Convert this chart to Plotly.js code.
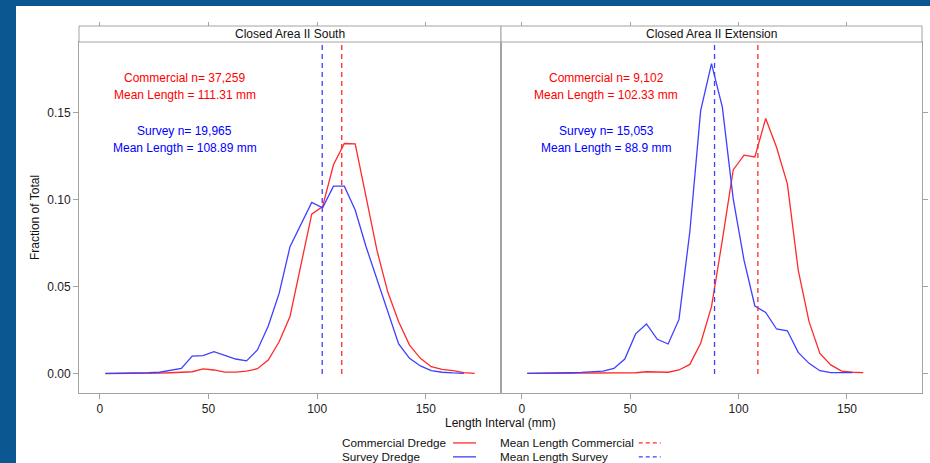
<!DOCTYPE html>
<html>
<head>
<meta charset="utf-8">
<script src="https://cdn.plot.ly/plotly-3.0.1.min.js"></script>
<style>
  html, body { margin: 0; padding: 0; width: 930px; height: 463px; background: #0b5791; overflow: hidden; }
  #chart { position: absolute; left: 16px; top: 6px; width: 914px; height: 457px; background: #ffffff; }
</style>
</head>
<body>
<div id="chart"></div>
<script>
// ---- Data ----
const panelTitles = ["Closed Area II South", "Closed Area II Extension"];

const southCommercialX = [2.5, 7.5, 12.5, 17.5, 22.5, 27.5, 32.5, 37.5, 42.5, 47.5, 52.5, 57.5, 62.5, 67.5, 72.5, 77.5, 82.5, 87.5, 92.5, 97.5, 102.5, 107.5, 112.5, 117.5, 122.5, 127.5, 132.5, 137.5, 142.5, 147.5, 152.5, 157.5, 162.5, 167.5, 172.5];
const southCommercialY = [0.0002, 0.0002, 0.0003, 0.0003, 0.0004, 0.0005, 0.0007, 0.0010, 0.0013, 0.0029, 0.0023, 0.0011, 0.0011, 0.0017, 0.0030, 0.0080, 0.0185, 0.0330, 0.0615, 0.0917, 0.0960, 0.1200, 0.1322, 0.1320, 0.1016, 0.0710, 0.0470, 0.0300, 0.0166, 0.0090, 0.0042, 0.0027, 0.0019, 0.0008, 0.0004];

const southSurveyX = [2.5, 7.5, 12.5, 17.5, 22.5, 27.5, 32.5, 37.5, 42.5, 47.5, 52.5, 57.5, 62.5, 67.5, 72.5, 77.5, 82.5, 87.5, 92.5, 97.5, 102.5, 107.5, 112.5, 117.5, 122.5, 127.5, 132.5, 137.5, 142.5, 147.5, 152.5, 157.5, 162.5, 167.5];
const southSurveyY = [0.0003, 0.0003, 0.0004, 0.0005, 0.0007, 0.0010, 0.0020, 0.0032, 0.0103, 0.0105, 0.0128, 0.0109, 0.0086, 0.0075, 0.0138, 0.0275, 0.0462, 0.0730, 0.0860, 0.0984, 0.0953, 0.1077, 0.1077, 0.0940, 0.0730, 0.0540, 0.0350, 0.0172, 0.0090, 0.0046, 0.0019, 0.0010, 0.0006, 0.0004];

const extCommercialX = [2.5, 7.5, 12.5, 17.5, 22.5, 27.5, 32.5, 37.5, 42.5, 47.5, 52.5, 57.5, 62.5, 67.5, 72.5, 77.5, 82.5, 87.5, 92.5, 97.5, 102.5, 107.5, 112.5, 117.5, 122.5, 127.5, 132.5, 137.5, 142.5, 147.5, 152.5, 157.5];
const extCommercialY = [0.0003, 0.0003, 0.0003, 0.0004, 0.0004, 0.0005, 0.0005, 0.0006, 0.0006, 0.0006, 0.0007, 0.0013, 0.0010, 0.0010, 0.0023, 0.0055, 0.0176, 0.0386, 0.0768, 0.1170, 0.1255, 0.1245, 0.1465, 0.1300, 0.1090, 0.0596, 0.0300, 0.0118, 0.0052, 0.0017, 0.0010, 0.0008];

const extSurveyX = [2.5, 7.5, 12.5, 17.5, 22.5, 27.5, 32.5, 37.5, 42.5, 47.5, 52.5, 57.5, 62.5, 67.5, 72.5, 77.5, 82.5, 87.5, 92.5, 97.5, 102.5, 107.5, 112.5, 117.5, 122.5, 127.5, 132.5, 137.5, 142.5, 147.5, 152.5];
const extSurveyY = [0.0004, 0.0004, 0.0005, 0.0006, 0.0007, 0.0009, 0.0013, 0.0017, 0.0032, 0.0086, 0.0230, 0.0287, 0.0199, 0.0172, 0.0313, 0.0816, 0.1510, 0.1780, 0.1530, 0.1006, 0.0653, 0.0390, 0.0353, 0.0258, 0.0248, 0.0124, 0.0061, 0.0019, 0.0008, 0.0008, 0.0008];

// dashed mean lines as drawn in the picture [South, Extension]
const meanLineCommercial = [111.31, 108.89];
const meanLineSurvey = [102.33, 88.9];

const commercialText = ["Commercial n= 37,259", "Commercial n= 9,102"];
const commercialMeanText = ["Mean Length = 111.31 mm", "Mean Length = 102.33 mm"];
const surveyText = ["Survey n= 19,965", "Survey n= 15,053"];
const surveyMeanText = ["Mean Length = 108.89 mm", "Mean Length = 88.9 mm"];

const xTickVals = [0, 50, 100, 150];
const yTickVals = [0, 0.05, 0.10, 0.15];

const legendSolid = ["Commercial Dredge", "Survey Dredge"];
const legendDashed = ["Mean Length Commercial", "Mean Length Survey"];

// ---- Styling ----
const RED = "#ff2a2a";
const BLUE = "#3f3fff";
const FRAME = "#a3a3a3";
const FONT = "Liberation Sans, Arial, Helvetica, sans-serif";
const xRange = [-9.6, 184.6];
const yRange = [-0.0109, 0.1904];
const yTop = 0.9564;

function line(x, y, color, xa, ya, dash) {
  return { type: "scatter", mode: "lines", x: x, y: y, xaxis: xa, yaxis: ya,
    line: { color: color, width: 1.3, dash: dash || "solid" }, hoverinfo: "skip", showlegend: false };
}

const traces = [
  line(southCommercialX, southCommercialY, RED, "x", "y"),
  line(southSurveyX, southSurveyY, BLUE, "x", "y"),
  line([meanLineCommercial[0], meanLineCommercial[0]], [0, 0.3], RED, "x", "y", "5px,4px"),
  line([meanLineSurvey[0], meanLineSurvey[0]], [0, 0.3], BLUE, "x", "y", "5px,4px"),
  line(extCommercialX, extCommercialY, RED, "x2", "y2"),
  line(extSurveyX, extSurveyY, BLUE, "x2", "y2"),
  line([meanLineCommercial[1], meanLineCommercial[1]], [0, 0.3], RED, "x2", "y2", "5px,4px"),
  line([meanLineSurvey[1], meanLineSurvey[1]], [0, 0.3], BLUE, "x2", "y2", "5px,4px"),
  { type: "scatter", x: [], y: [], xaxis: "x3", yaxis: "y", showlegend: false, hoverinfo: "skip" },
  { type: "scatter", x: [], y: [], xaxis: "x4", yaxis: "y2", showlegend: false, hoverinfo: "skip" }
];

const split = 0.5006;
const baseX = {
  range: xRange, tickvals: xTickVals, ticks: "outside", ticklen: 5, tickcolor: FRAME, tickwidth: 1,
  showline: true, linecolor: FRAME, linewidth: 1, mirror: true, showgrid: false, zeroline: false,
  tickfont: { family: FONT, size: 12, color: "#222" }, fixedrange: true
};
const topX = {
  range: xRange, tickvals: xTickVals, ticks: "outside", ticklen: 4, tickcolor: FRAME, tickwidth: 1,
  showline: false, showgrid: false, zeroline: false, showticklabels: false,
  anchor: "free", position: 1, side: "top", fixedrange: true
};
const baseY = {
  range: yRange, domain: [0, yTop], tickvals: yTickVals, ticktext: ["0.00", "0.05", "0.10", "0.15"],
  ticks: "outside", ticklen: 5, tickcolor: FRAME, tickwidth: 1,
  showline: true, linecolor: FRAME, linewidth: 1, mirror: true, showgrid: false, zeroline: false,
  tickfont: { family: FONT, size: 12, color: "#222" }, fixedrange: true
};

const annotations = [];
const shapes = [];
["x", "x2"].forEach((xa, i) => {
  const ya = i === 0 ? "y" : "y2";
  const dom = xa + " domain";
  // strip
  shapes.push({ type: "rect", xref: dom, yref: "paper", x0: 0, x1: 1, y0: yTop, y1: 1,
    fillcolor: "#ffffff", line: { color: FRAME, width: 1 } });
  annotations.push({ xref: dom, yref: "paper", x: 0.5, y: (yTop + 1) / 2, text: panelTitles[i],
    showarrow: false, xanchor: "center", yanchor: "middle", font: { family: FONT, size: 12, color: "#111" } });
  // panel texts
  const tx = 39;
  [[commercialText[i], 0.1699, "#ff0000"], [commercialMeanText[i], 0.1600, "#ff0000"],
   [surveyText[i], 0.1395, "#0000ff"], [surveyMeanText[i], 0.1296, "#0000ff"]].forEach(a => {
    annotations.push({ xref: xa, yref: ya, x: tx, y: a[1], text: a[0], showarrow: false,
      xanchor: "center", yanchor: "middle", font: { family: FONT, size: 12, color: a[2] } });
  });
});

// axis title (centered across both panels)
annotations.push({ xref: "paper", yref: "paper", x: 0.5, y: -0.081, text: "Length Interval (mm)",
  showarrow: false, xanchor: "center", yanchor: "middle", font: { family: FONT, size: 12, color: "#111" } });

// legend (text then key, as in the reference)
const rowY = [-0.136, -0.174];
const colTextX = [0.3095, 0.4975];
const keyX = [[0.4437, 0.4710], [0.6640, 0.6900]];
[legendSolid, legendDashed].forEach((col, c) => {
  col.forEach((label, r) => {
    annotations.push({ xref: "paper", yref: "paper", x: colTextX[c], y: rowY[r], text: label,
      showarrow: false, xanchor: "left", yanchor: "middle", font: { family: FONT, size: 11.7, color: "#111" } });
    shapes.push({ type: "line", xref: "paper", yref: "paper", x0: keyX[c][0], x1: keyX[c][1],
      y0: rowY[r], y1: rowY[r], line: { color: r === 0 ? RED : BLUE, width: 1.3, dash: c === 1 ? "4px,3px" : "solid" } });
  });
});

const layout = {
  width: 914, height: 457,
  margin: { l: 63, r: 8, t: 20, b: 70 },
  paper_bgcolor: "#ffffff", plot_bgcolor: "#ffffff",
  showlegend: false,
  font: { family: FONT, size: 12, color: "#111" },
  xaxis: Object.assign({}, baseX, { domain: [0, split], anchor: "y" }),
  xaxis2: Object.assign({}, baseX, { domain: [split, 1], anchor: "y2" }),
  xaxis3: Object.assign({}, topX, { overlaying: "x" }),
  xaxis4: Object.assign({}, topX, { overlaying: "x2" }),
  yaxis: Object.assign({}, baseY, { anchor: "x", side: "left",
    title: { text: "Fraction of Total", standoff: 5, font: { family: FONT, size: 12, color: "#111" } } }),
  yaxis2: Object.assign({}, baseY, { anchor: "x2", side: "right", showticklabels: false }),
  annotations: annotations,
  shapes: shapes
};

Plotly.newPlot("chart", traces, layout, { displayModeBar: false, staticPlot: true });
</script>
</body>
</html>
